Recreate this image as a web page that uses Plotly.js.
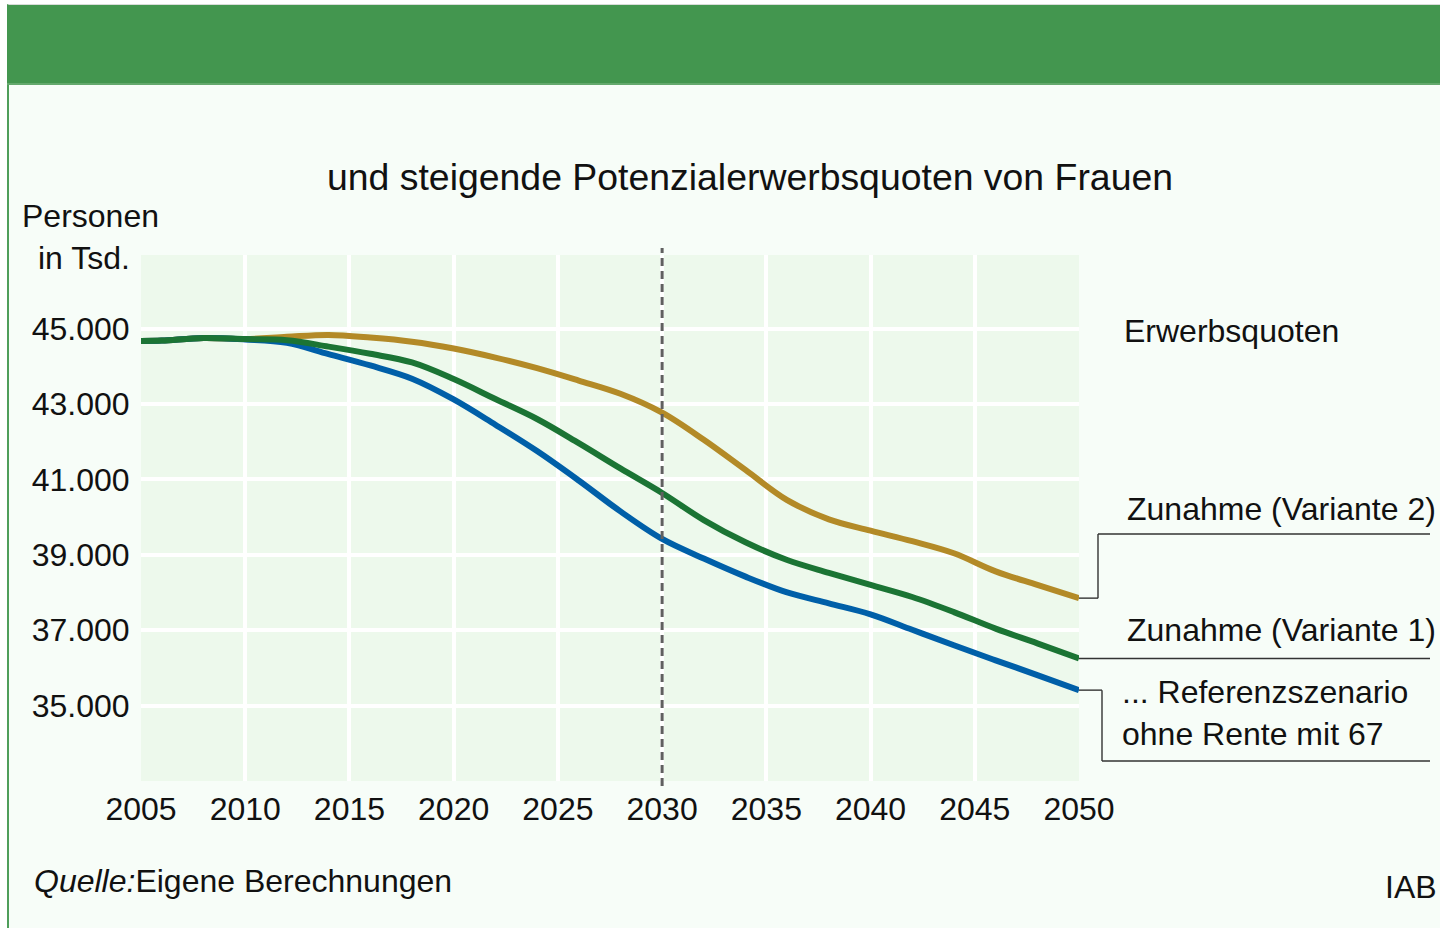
<!DOCTYPE html>
<html>
<head>
<meta charset="utf-8">
<script src="https://cdn.plot.ly/plotly-3.0.1.min.js"></script>
<style>
  html, body { margin: 0; padding: 0; background: #ffffff; width: 1440px; height: 928px; overflow: hidden; }
  #page { position: absolute; left: 7px; top: 4px; width: 1433px; height: 924px; background: #f7fdf8; border-left: 2px solid #4f9e5a; border-top: 1px solid #d8dcd8; box-sizing: border-box; }
  #header { position: absolute; left: 7px; top: 5px; width: 1433px; height: 80px; background: #43964f; border-bottom: 2px solid #64a96d; box-sizing: border-box; }
  #chart { position: absolute; left: 0; top: 0; width: 1440px; height: 928px; }
</style>
</head>
<body>
<div id="page"></div>
<div id="header"></div>
<div id="chart"></div>
<script>
// ---- data (Personen in Tsd.) ----
const years = [2005, 2006, 2008, 2010, 2012, 2014, 2016, 2018, 2020, 2022, 2024, 2026, 2028, 2030, 2032, 2034, 2036, 2038, 2040, 2042, 2044, 2046, 2048, 2050];
const variante2 = [44670, 44680, 44750, 44720, 44780, 44830, 44760, 44650, 44470, 44230, 43950, 43620, 43270, 42770, 42050, 41250, 40450, 39940, 39640, 39360, 39040, 38560, 38200, 37850];
const variante1 = [44670, 44680, 44750, 44720, 44690, 44520, 44330, 44100, 43660, 43130, 42600, 41960, 41290, 40640, 39920, 39330, 38860, 38520, 38200, 37880, 37480, 37040, 36650, 36250];
const referenz  = [44670, 44680, 44750, 44710, 44620, 44320, 44020, 43670, 43120, 42450, 41750, 40970, 40150, 39420, 38900, 38420, 38000, 37710, 37420, 37010, 36600, 36200, 35810, 35410];

const xTickVals = [2005, 2010, 2015, 2020, 2025, 2030, 2035, 2040, 2045, 2050];
const xTickText = ['2005', '2010', '2015', '2020', '2025', '2030', '2035', '2040', '2045', '2050'];
const yTickVals = [35000, 37000, 39000, 41000, 43000, 45000];
const yTickText = ['35.000', '37.000', '39.000', '41.000', '43.000', '45.000'];
const markerYear = 2030;

const titleText = 'und steigende Potenzialerwerbsquoten von Frauen';
const yUnitText = ['Personen', 'in Tsd.'];
const legendHead = 'Erwerbsquoten';
const seriesLabels = ['Zunahme (Variante 2)', 'Zunahme (Variante 1)', '... Referenzszenario', 'ohne Rente mit 67'];
const sourceText = '<i>Quelle:</i>Eigene Berechnungen';
const logoText = 'IAB';

// ---- layout geometry ----
const W = 1440, H = 928;
const L = 141, R = 1079, T = 255, B = 781;
const yRange = [33000, 46950];
const px = x => (x - L) / (R - L);
const py = y => (B - y) / (B - T);
const pyVal = y => yRange[0] + (B - y) / (B - T) * (yRange[1] - yRange[0]);

const FONT = 'Liberation Sans, Arial, Helvetica, sans-serif';
const cGold = '#b38a27', cGreen = '#1b7434', cBlue = '#005fa8';

const mk = (y, color, name) => ({
  x: years, y: y, type: 'scatter', mode: 'lines', name: name,
  line: { color: color, width: 6, shape: 'spline', smoothing: 1 },
  hoverinfo: 'skip'
});

const data = [
  mk(variante2, cGold, seriesLabels[0]),
  mk(referenz, cBlue, seriesLabels[2]),
  mk(variante1, cGreen, seriesLabels[1])
];

const lastOf = a => a[a.length - 1];
const conn = '#333333';
const seg = (x0, y0, x1, y1) => ({ type: 'line', xref: 'paper', yref: 'y', x0: x0, y0: y0, x1: x1, y1: y1, line: { color: conn, width: 1.4 } });

const shapes = [
  { type: 'line', xref: 'x', yref: 'paper', x0: markerYear, x1: markerYear, y0: py(786), y1: py(248),
    line: { color: '#606060', width: 3, dash: '8px,5px' } },
  // Variante 2 connector
  seg(1.0, lastOf(variante2), px(1098), lastOf(variante2)),
  seg(px(1098), lastOf(variante2), px(1098), pyVal(534)),
  seg(px(1098), pyVal(534), px(1430), pyVal(534)),
  // Variante 1 connector
  seg(1.0, lastOf(variante1), px(1430), lastOf(variante1)),
  // Referenz connector
  seg(1.0, lastOf(referenz), px(1102), lastOf(referenz)),
  seg(px(1102), lastOf(referenz), px(1102), pyVal(761)),
  seg(px(1102), pyVal(761), px(1430), pyVal(761))
];

const ann = (text, x, y, size, anchor) => ({
  text: text, xref: 'paper', yref: 'paper', x: px(x), y: py(y),
  xanchor: anchor || 'left', yanchor: 'middle', showarrow: false,
  font: { family: FONT, size: size || 32, color: '#111111' }
});

const annotations = [
  ann(titleText, 750, 177, 37.4, 'center'),
  ann(yUnitText[0], 20, 216),
  ann(yUnitText[1], 36, 258),
  ann(legendHead, 1122, 331),
  ann(seriesLabels[0], 1125, 509),
  ann(seriesLabels[1], 1125, 630),
  ann(seriesLabels[2], 1120, 692),
  ann(seriesLabels[3], 1120, 734),
  ann(sourceText, 32, 881),
  ann(logoText, 1383, 887)
];

const layout = {
  width: W, height: H,
  margin: { l: L, r: W - R, t: T, b: H - B, pad: 0 },
  paper_bgcolor: 'rgba(0,0,0,0)',
  plot_bgcolor: '#edf9ec',
  showlegend: false,
  font: { family: FONT, size: 32, color: '#111111' },
  xaxis: {
    range: [2005, 2050], tickvals: xTickVals, ticktext: xTickText,
    showgrid: true, gridcolor: '#ffffff', gridwidth: 4,
    zeroline: false, showline: false,
    ticks: '', ticklabelstandoff: 6,
    tickfont: { family: FONT, size: 32, color: '#111111' },
    fixedrange: true
  },
  yaxis: {
    range: yRange, tickvals: yTickVals, ticktext: yTickText,
    showgrid: true, gridcolor: '#ffffff', gridwidth: 4,
    zeroline: false, showline: false,
    ticks: 'outside', ticklen: 4, tickcolor: 'rgba(0,0,0,0)',
    tickfont: { family: FONT, size: 32, color: '#111111' },
    fixedrange: true
  },
  shapes: shapes,
  annotations: annotations
};

Plotly.newPlot('chart', data, layout, { staticPlot: true, displayModeBar: false });
</script>
</body>
</html>
